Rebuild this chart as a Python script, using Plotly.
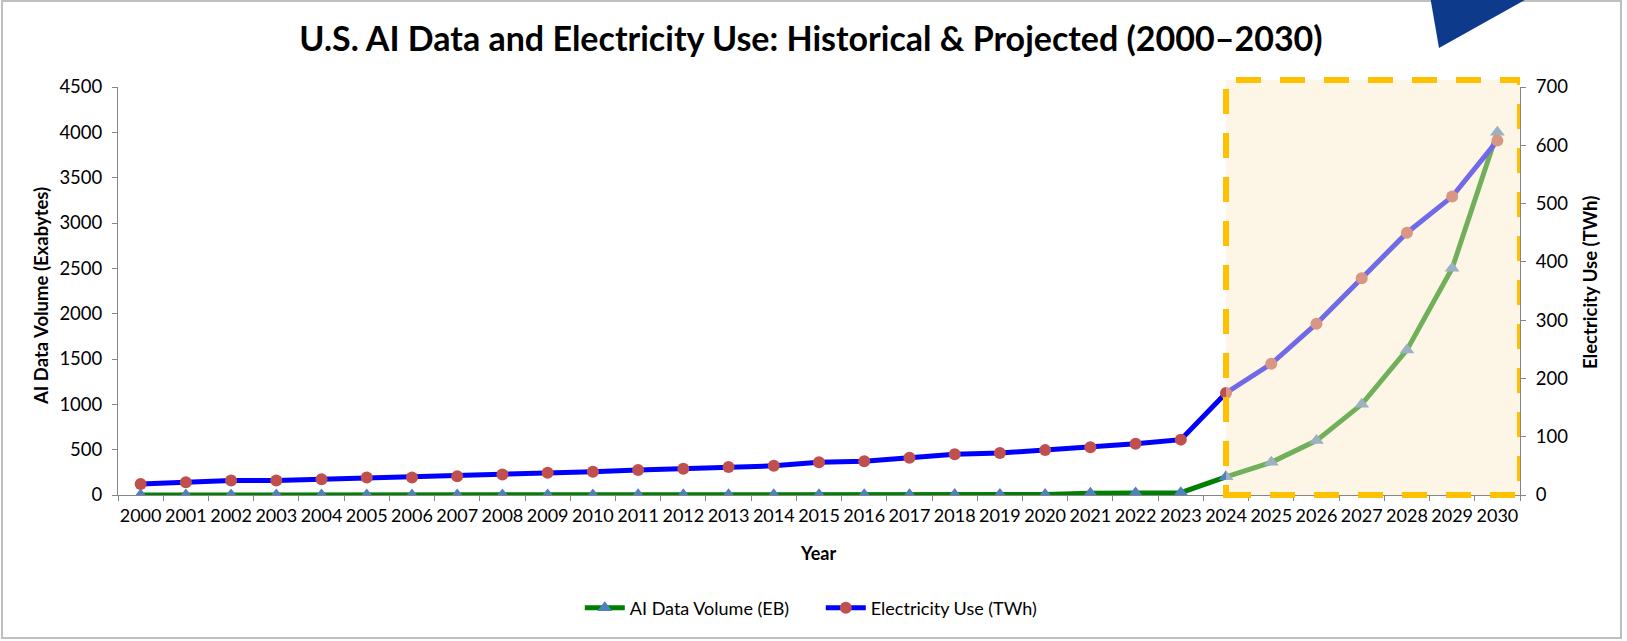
import plotly.graph_objects as go

years = ["2000", "2001", "2002", "2003", "2004", "2005", "2006", "2007", "2008", "2009",
         "2010", "2011", "2012", "2013", "2014", "2015", "2016", "2017", "2018", "2019",
         "2020", "2021", "2022", "2023", "2024", "2025", "2026", "2027", "2028", "2029", "2030"]
ai_data_eb = [0.1, 0.1, 0.2, 0.2, 0.3, 0.4, 0.5, 0.6, 0.8, 1, 1.2, 1.5, 1.8, 2.2, 2.6, 3,
              3.5, 4, 4.5, 5, 5.5, 20, 22, 25, 200, 360, 600, 1000, 1600, 2500, 4000]
electricity_twh = [19, 22, 25, 25, 27, 30, 30, 32, 35, 38, 40, 43, 45, 48, 50, 56, 58, 64,
                   70, 72, 77, 82, 88, 95, 175, 225, 294, 372, 450, 512, 608]
first_projected_year = "2024"
left_ticks = [0, 500, 1000, 1500, 2000, 2500, 3000, 3500, 4000, 4500]
right_ticks = [0, 100, 200, 300, 400, 500, 600, 700]

W, H = 1627, 641
ML, MR, MT, MB = 118, 107, 87, 146
PW = W - ML - MR
PH = H - MT - MB


def px(x):
    return (x - ML) / PW


def py(y):
    return (H - MB - y) / PH


FONT = "Lato"
AXIS_GREY = "#868686"

fig = go.Figure()
fig.add_trace(go.Scatter(
    x=years, y=ai_data_eb, name="AI Data Volume (EB)", mode="lines+markers",
    line=dict(color="#008000", width=5),
    marker=dict(symbol="triangle-up", size=13, color="#4F81BD"),
    yaxis="y",
))
fig.add_trace(go.Scatter(
    x=years, y=electricity_twh, name="Electricity Use (TWh)", mode="lines+markers",
    line=dict(color="#0000FF", width=5),
    marker=dict(symbol="circle", size=12, color="#C0504D"),
    yaxis="y2",
))

idx0 = years.index(first_projected_year)
shapes = [
    dict(type="rect", xref="paper", yref="paper", x0=px(2), x1=px(1621), y0=py(638), y1=py(1),
         line=dict(color="#BFBFBF", width=2), fillcolor="rgba(0,0,0,0)", layer="below"),
    dict(type="rect", xref="x", yref="paper", x0=idx0, x1=len(years) - 0.5, y0=0, y1=py(80),
         line=dict(color="#FFC000", width=6, dash="25px,19px"),
         fillcolor="rgba(250,235,200,0.45)", layer="above"),
    dict(type="path", xref="paper", yref="paper",
         path=f"M {px(1430)},{py(-4)} L {px(1532)},{py(-4)} L {px(1439)},{py(48)} Z",
         fillcolor="#0E3A8C", line=dict(width=0), layer="above"),
]

annotations = [
    dict(text="AI Data Volume (Exabytes)", xref="paper", yref="paper", x=px(41), y=py(296),
         textangle=-90, showarrow=False, xanchor="center", yanchor="middle",
         font=dict(family=FONT, size=18.5, color="black", weight="bold")),
    dict(text="Electricity Use (TWh)", xref="paper", yref="paper", x=px(1590), y=py(283),
         textangle=-90, showarrow=False, xanchor="center", yanchor="middle",
         font=dict(family=FONT, size=18.5, color="black", weight="bold")),
    dict(text="Year", xref="paper", yref="paper", x=px(818), y=py(553),
         showarrow=False, xanchor="center", yanchor="middle",
         font=dict(family=FONT, size=18, color="black", weight="bold")),
]

fig.update_layout(
    width=W, height=H,
    margin=dict(l=ML, r=MR, t=MT, b=MB, autoexpand=False),
    paper_bgcolor="white", plot_bgcolor="white",
    font=dict(family=FONT, size=18, color="black"),
    title=dict(text="U.S. AI Data and Electricity Use: Historical & Projected (2000–2030)",
               x=px(811), xref="paper", xanchor="center", y=1 - 39 / H, yanchor="middle",
               font=dict(family=FONT, size=34, color="black", weight="bold")),
    xaxis=dict(type="category", range=[-0.5, len(years) - 0.5], showgrid=False,
               showline=True, linecolor=AXIS_GREY, linewidth=1,
               ticks="outside", tickson="boundaries", ticklen=5, tickcolor=AXIS_GREY,
               tickangle=0, ticklabelstandoff=4,
               tickfont=dict(family=FONT, size=18, color="black"), zeroline=False),
    yaxis=dict(range=[0, 4500], tickvals=left_ticks, showgrid=False, zeroline=False,
               showline=True, linecolor=AXIS_GREY, linewidth=1,
               ticks="outside", ticklen=5, tickcolor=AXIS_GREY, ticklabelstandoff=6,
               tickfont=dict(family=FONT, size=18.5, color="black")),
    yaxis2=dict(range=[0, 700], tickvals=right_ticks, overlaying="y", side="right",
                showgrid=False, zeroline=False,
                showline=True, linecolor=AXIS_GREY, linewidth=1,
                ticks="outside", ticklen=5, tickcolor=AXIS_GREY, ticklabelstandoff=6,
                tickfont=dict(family=FONT, size=18.5, color="black")),
    legend=dict(orientation="h", x=px(584) - 0.003, xanchor="left", y=py(608), yanchor="middle",
                font=dict(family=FONT, size=18, color="black"), bgcolor="rgba(0,0,0,0)",
                itemwidth=40, entrywidth=186, entrywidthmode="pixels"),
    shapes=shapes,
    annotations=annotations,
    showlegend=True,
)

fig.write_html("out.html")
